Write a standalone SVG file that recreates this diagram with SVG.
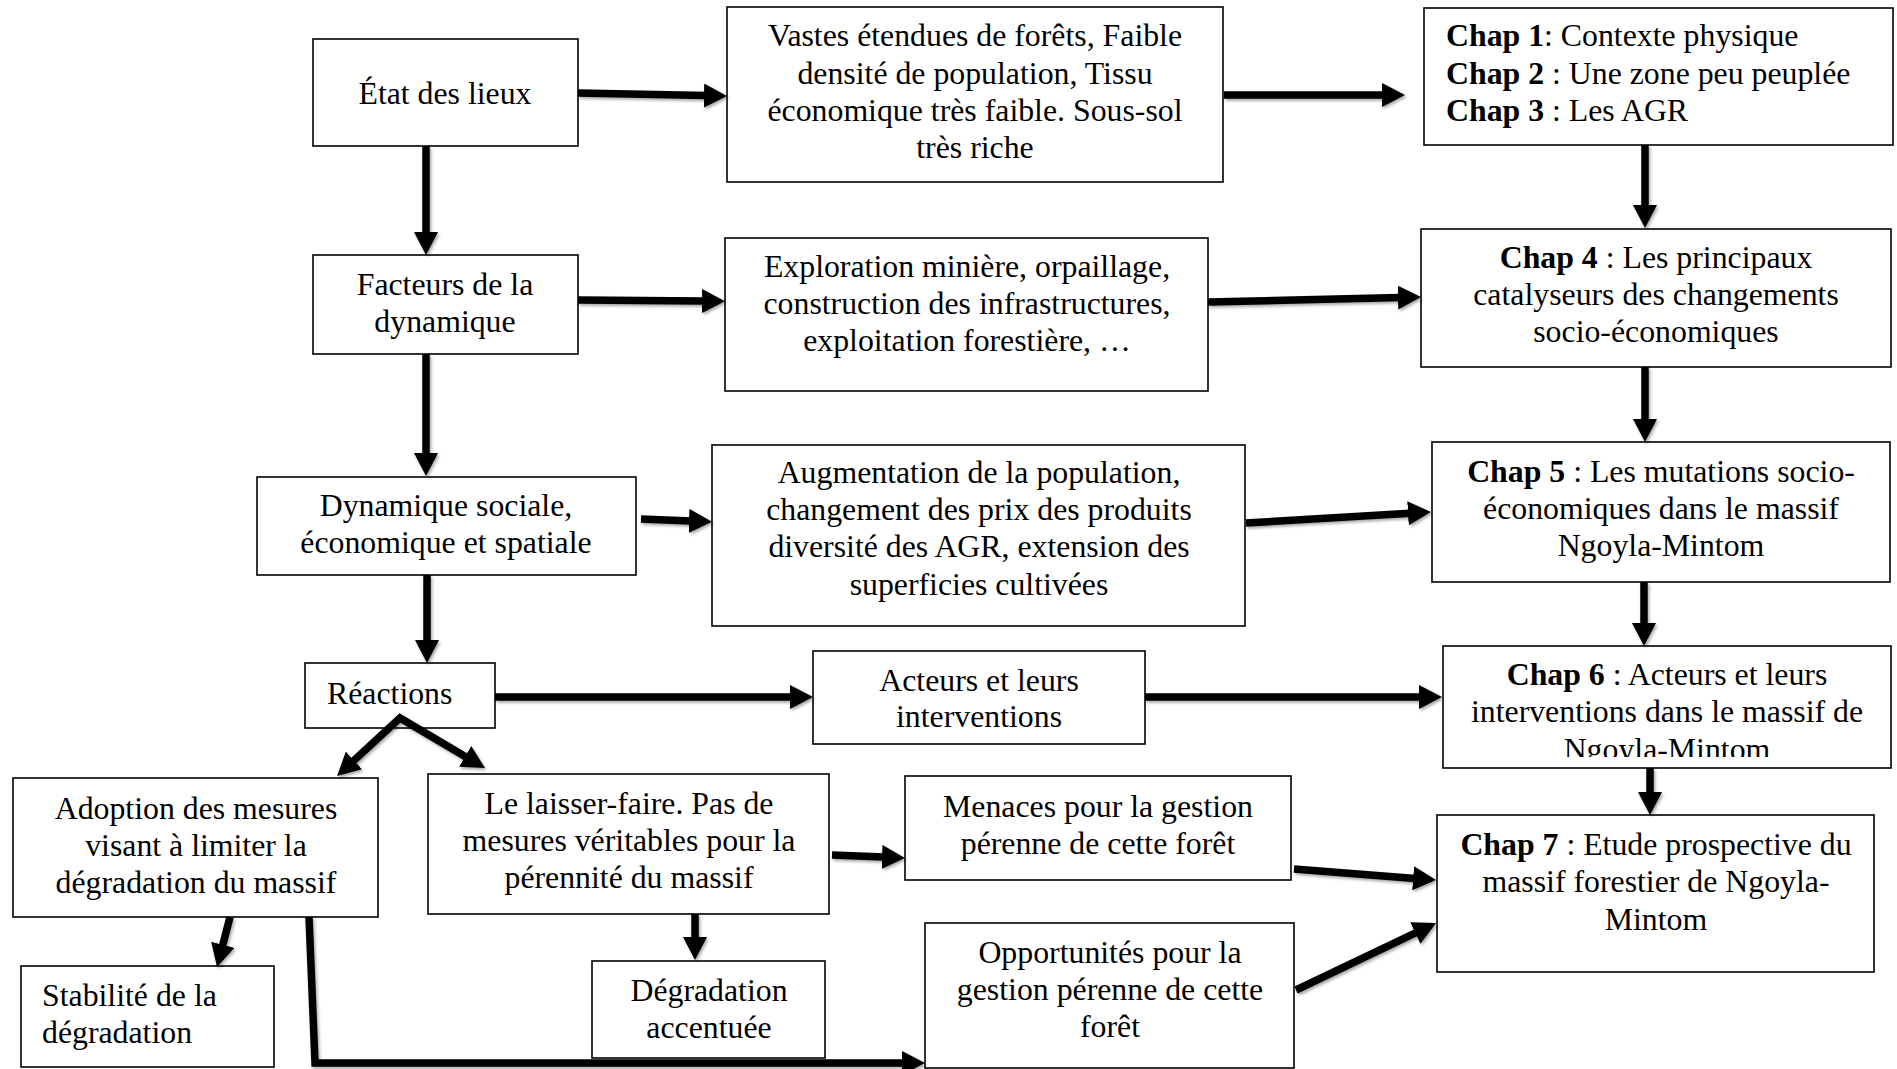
<svg xmlns="http://www.w3.org/2000/svg" width="1897" height="1069" viewBox="0 0 1897 1069">
<style>
.box{fill:#fff;stroke:#000;stroke-width:1.6}
.t{font-family:"Liberation Serif","Times New Roman",serif;font-size:31.8px;fill:#000}
.c{text-anchor:middle}
.b{font-weight:bold}
.con{fill:none;stroke:#000;stroke-width:7.5;stroke-linejoin:miter}
</style>
<defs>
<marker id="ah" viewBox="0 0 23 24" refX="2" refY="12" markerWidth="23" markerHeight="24" markerUnits="userSpaceOnUse" orient="auto-start-reverse">
<path d="M0,0 L23,12 L0,24 z" fill="#000"/>
</marker>
<filter id="sh" x="-10%" y="-10%" width="120%" height="120%">
<feDropShadow dx="1.5" dy="2" stdDeviation="1.5" flood-color="#000" flood-opacity="0.35"/>
</filter>
<clipPath id="clip6"><rect x="1443" y="646" width="448" height="111"/></clipPath>
</defs>

<g id="etat">
<rect class="box" x="313" y="39" width="265" height="107"/>
<text class="t c" x="445" y="104">État des lieux</text>
</g>
<g id="vastes">
<rect class="box" x="727" y="7" width="496" height="175"/>
<text class="t c" x="975"><tspan x="975" y="46">Vastes étendues de forêts, Faible</tspan><tspan x="975" y="84">densité de population, Tissu</tspan><tspan x="975" y="121">économique très faible. Sous-sol</tspan><tspan x="975" y="158">très riche</tspan></text>
</g>
<g id="chap123">
<rect class="box" x="1424" y="8" width="469" height="137"/>
<text class="t" x="1446" y="46"><tspan class="b">Chap 1</tspan>: Contexte physique</text>
<text class="t" x="1446" y="84"><tspan class="b">Chap 2</tspan> : Une zone peu peuplée</text>
<text class="t" x="1446" y="121"><tspan class="b">Chap 3</tspan> : Les AGR</text>
</g>
<g id="facteurs">
<rect class="box" x="313" y="255" width="265" height="99"/>
<text class="t c"><tspan x="445" y="295">Facteurs de la</tspan><tspan x="445" y="332">dynamique</tspan></text>
</g>
<g id="exploration">
<rect class="box" x="725" y="238" width="483" height="153"/>
<text class="t c"><tspan x="967" y="277">Exploration minière, orpaillage,</tspan><tspan x="967" y="314">construction des infrastructures,</tspan><tspan x="967" y="351">exploitation forestière, …</tspan></text>
</g>
<g id="chap4">
<rect class="box" x="1421" y="229" width="470" height="138"/>
<text class="t c" x="1656" y="268"><tspan class="b">Chap 4</tspan> : Les principaux</text>
<text class="t c" x="1656" y="305">catalyseurs des changements</text>
<text class="t c" x="1656" y="342">socio-économiques</text>
</g>
<g id="dynamique">
<rect class="box" x="257" y="477" width="379" height="98"/>
<text class="t c"><tspan x="446" y="516">Dynamique sociale,</tspan><tspan x="446" y="553">économique et spatiale</tspan></text>
</g>
<g id="augmentation">
<rect class="box" x="712" y="445" width="533" height="181"/>
<text class="t c"><tspan x="979" y="483">Augmentation de la population,</tspan><tspan x="979" y="520">changement des prix des produits</tspan><tspan x="979" y="557">diversité des AGR, extension des</tspan><tspan x="979" y="595">superficies cultivées</tspan></text>
</g>
<g id="chap5">
<rect class="box" x="1432" y="442" width="458" height="140"/>
<text class="t c" x="1661" y="482"><tspan class="b">Chap 5</tspan> : Les mutations socio-</text>
<text class="t c" x="1661" y="519">économiques dans le massif</text>
<text class="t c" x="1661" y="556">Ngoyla-Mintom</text>
</g>
<g id="reactions">
<rect class="box" x="305" y="663" width="190" height="65"/>
<text class="t" x="327" y="704">Réactions</text>
</g>
<g id="acteurs">
<rect class="box" x="813" y="651" width="332" height="93"/>
<text class="t c"><tspan x="979" y="691">Acteurs et leurs</tspan><tspan x="979" y="727">interventions</tspan></text>
</g>
<g id="chap6">
<rect class="box" x="1443" y="646" width="448" height="122"/>
<g clip-path="url(#clip6)">
<text class="t c" x="1667" y="685"><tspan class="b">Chap 6</tspan> : Acteurs et leurs</text>
<text class="t c" x="1667" y="722">interventions dans le massif de</text>
<text class="t c" x="1667" y="760">Ngoyla-Mintom</text>
</g>
</g>
<g id="adoption">
<rect class="box" x="13" y="778" width="365" height="139"/>
<text class="t c"><tspan x="196" y="819">Adoption des mesures</tspan><tspan x="196" y="856">visant à limiter la</tspan><tspan x="196" y="893">dégradation du massif</tspan></text>
</g>
<g id="laisser">
<rect class="box" x="428" y="774" width="401" height="140"/>
<text class="t c"><tspan x="629" y="814">Le laisser-faire. Pas de</tspan><tspan x="629" y="851">mesures véritables pour la</tspan><tspan x="629" y="888">pérennité du massif</tspan></text>
</g>
<g id="menaces">
<rect class="box" x="905" y="776" width="386" height="104"/>
<text class="t c"><tspan x="1098" y="817">Menaces pour la gestion</tspan><tspan x="1098" y="854">pérenne de cette forêt</tspan></text>
</g>
<g id="chap7">
<rect class="box" x="1437" y="815" width="437" height="157"/>
<text class="t c" x="1656" y="855"><tspan class="b">Chap 7</tspan> : Etude prospective du</text>
<text class="t c" x="1656" y="892">massif forestier de Ngoyla-</text>
<text class="t c" x="1656" y="930">Mintom</text>
</g>
<g id="stabilite">
<rect class="box" x="21" y="966" width="253" height="101"/>
<text class="t"><tspan x="42" y="1006">Stabilité de la</tspan><tspan x="42" y="1043">dégradation</tspan></text>
</g>
<g id="degradation">
<rect class="box" x="592" y="961" width="233" height="97"/>
<text class="t c"><tspan x="709" y="1001">Dégradation</tspan><tspan x="709" y="1038">accentuée</tspan></text>
</g>
<g id="opportunites">
<rect class="box" x="925" y="923" width="369" height="145"/>
<text class="t c"><tspan x="1110" y="963">Opportunités pour la</tspan><tspan x="1110" y="1000">gestion pérenne de cette</tspan><tspan x="1110" y="1037">forêt</tspan></text>
</g>

<g id="connectors" filter="url(#sh)">
<path class="con" d="M578,93 L706,95.6" marker-end="url(#ah)"/>
<path class="con" d="M1224,95 L1384,95" marker-end="url(#ah)"/>
<path class="con" d="M1645,145 L1645,207" marker-end="url(#ah)"/>
<path class="con" d="M426,146 L426,234" marker-end="url(#ah)"/>
<path class="con" d="M578,300 L704,301" marker-end="url(#ah)"/>
<path class="con" d="M1208,302 L1400,297.5" marker-end="url(#ah)"/>
<path class="con" d="M1645,367 L1645,421" marker-end="url(#ah)"/>
<path class="con" d="M426,354 L426,455" marker-end="url(#ah)"/>
<path class="con" d="M641,519 L691,521" marker-end="url(#ah)"/>
<path class="con" d="M1246,523 L1410,513.2" marker-end="url(#ah)"/>
<path class="con" d="M1644,582 L1644,625" marker-end="url(#ah)"/>
<path class="con" d="M427,575 L427,642" marker-end="url(#ah)"/>
<path class="con" d="M495,697 L792,697" marker-end="url(#ah)"/>
<path class="con" d="M1145,697 L1421,697" marker-end="url(#ah)"/>
<path class="con" d="M1650,768 L1650,794" marker-end="url(#ah)"/>
<path class="con" d="M352.5,761.8 L400,718 L466.9,757.4" marker-start="url(#ah)" marker-end="url(#ah)"/>
<path class="con" d="M230,917 L222.3,946.7" marker-end="url(#ah)"/>
<path class="con" d="M309,917 L315,1063 L904,1063" marker-end="url(#ah)"/>
<path class="con" d="M695,914 L695,939" marker-end="url(#ah)"/>
<path class="con" d="M832,855 L884,857.1" marker-end="url(#ah)"/>
<path class="con" d="M1294,869 L1415.1,878.4" marker-end="url(#ah)"/>
<path class="con" d="M1296,990 L1417.1,932.1" marker-end="url(#ah)"/>
</g>
</svg>
